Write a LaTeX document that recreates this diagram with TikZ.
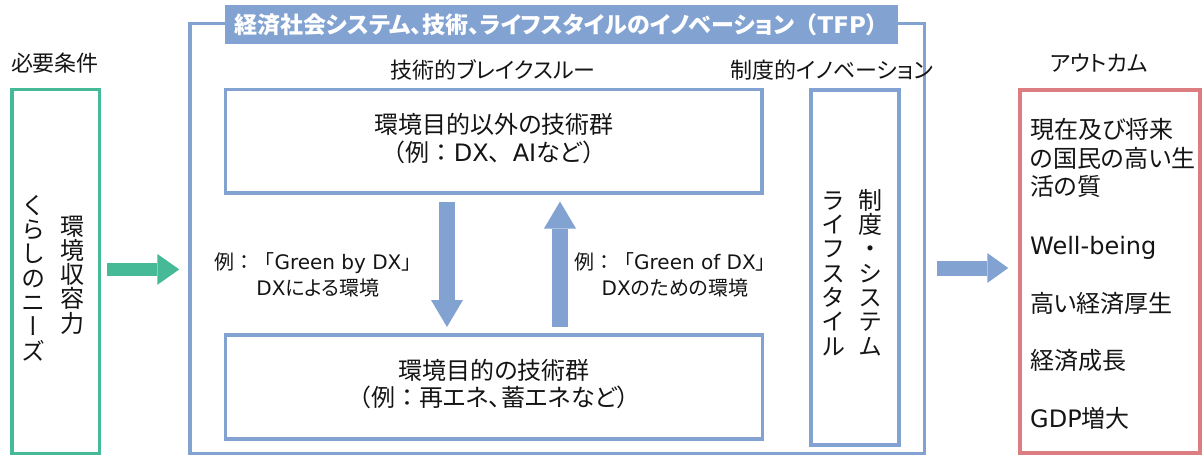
\documentclass[tikz,border=0pt]{standalone}
\usepackage{fontspec}
\setmainfont{Noto Sans CJK JP}[RawFeature={+palt}]
\newfontfamily\fwfont{Noto Sans CJK JP}
\newfontfamily\latfont{DejaVu Sans}
\newfontfamily\vtfont{Noto Sans CJK JP}[RawFeature={+vert}]
\newcommand\FullW[1]{{\fwfont #1}}
\newcommand\LatinTxt[1]{{\latfont #1}}
\usetikzlibrary{arrows.meta}
\definecolor{cgreen}{RGB}{70,185,150}
\definecolor{cblue}{RGB}{130,163,210}
\definecolor{cred}{RGB}{220,125,130}
\definecolor{ctext}{RGB}{20,20,20}
\begin{document}
\begin{tikzpicture}[x=1pt,y=-1pt,
  every node/.style={text=ctext, inner sep=0pt},
  box/.style={draw, line width=3.5pt, inner sep=0pt},
  gbox/.style={box, draw=cgreen},
  bbox/.style={box, draw=cblue},
  rbox/.style={box, draw=cred},
  lbl/.style={font=\fontsize{22}{26}\selectfont},
  big/.style={font=\fontsize{24}{27.5}\selectfont, align=center},
  otext/.style={font=\fontsize{24}{28.5}\selectfont, align=left, anchor=west},
  albl/.style={font=\fontsize{20}{26}\selectfont, align=center},
  vtext/.style={font=\vtfont\fontsize{24}{24.3}\selectfont, align=center},
  garrow/.style={draw=cgreen, line width=13.5pt, -{Triangle[width=31pt,length=22pt,line width=0pt]}},
  barrow/.style={draw=cblue, line width=15pt, -{Triangle[width=30pt,length=21pt,line width=0pt]}},
  darrow/.style={draw=cblue, line width=16.5pt, -{Triangle[width=32pt,length=27pt,line width=0pt]}}
]
\useasboundingbox (0,0) rectangle (1203,456);

% left: requirements
\node[lbl] (need) at (55,63) {必要条件};
\node[gbox, minimum width=87.5pt, minimum height=363.7pt] (leftbox) at (55.5,271.4) {};
\node[vtext] (kankyo) at (72,275) {環\\境\\収\\容\\力};
\node[vtext] (kurashi) at (33,278) {く\\ら\\し\\の\\ニ\\ー\\ズ};

% centre: TFP
\node[bbox, minimum width=734.5pt, minimum height=430pt] (outer) at (557.25,238.5) {};
\node[fill=cblue, minimum width=673pt, minimum height=39pt, text=white,
      font=\bfseries\fontsize{23}{26}\selectfont] (title) at (561.5,24.5)
  {経済社会システム、技術、ライフスタイルのイノベーション\FullW{（}\LatinTxt{TFP}\FullW{）}};
\node[lbl] (tech) at (493,70) {技術的ブレイクスルー};
\node[lbl] (inst) at (832,70) {制度的イノベーション};

\node[bbox, minimum width=536.5pt, minimum height=103.5pt] (upbox) at (493.75,141.25) {};
\node[big] (uptext) at (494,138.5) {環境目的以外の技術群\\\FullW{（例：}\LatinTxt{DX}\FullW{、}\LatinTxt{AI}など\FullW{）}};
\node[bbox, minimum width=537pt, minimum height=104pt] (lowbox) at (494,387) {};
\node[big] (lowtext) at (494,384) {環境目的の技術群\\\FullW{（例：}再エネ、蓄エネなど\FullW{）}};

\node[albl] (lblby) at (318,275) {例\FullW{：「}\LatinTxt{Green by DX}\FullW{」}\\\LatinTxt{DX}による環境};
\node[albl] (lblof) at (675,275) {例\FullW{：「}\LatinTxt{Green of DX}\FullW{」}\\\LatinTxt{DX}のための環境};

\node[bbox, minimum width=88pt, minimum height=355pt] (instbox) at (855,267.5) {};
\node[vtext] (seido) at (870,272.5) {制\\度\\・\\シ\\ス\\テ\\ム};
\node[vtext] (life) at (833,273.5) {ラ\\イ\\フ\\ス\\タ\\イ\\ル};

% right: outcomes
\node[lbl] (outcome) at (1099,63) {アウトカム};
\node[rbox, minimum width=180pt, minimum height=363pt] (redbox) at (1110,271.5) {};
\node[otext] (o1) at (1030,158) {現在及び将来\\の国民の高い生\\活の質};
\node[otext] (o2) at (1030,247.5) {\LatinTxt{Well-being}};
\node[otext] (o3) at (1030,303) {高い経済厚生};
\node[otext] (o4) at (1030,360) {経済成長};
\node[otext] (o5) at (1030,418) {\LatinTxt{GDP}増大};

% arrows
\coordinate (ga) at ([xshift=6pt,yshift=2pt]leftbox.east);
\coordinate (gb) at (outer.west |- ga);
\draw[garrow] (ga) -- ([xshift=-9pt]gb);

\coordinate (bb) at ([yshift=3.5pt]redbox.west);
\coordinate (ba) at (outer.east |- bb);
\draw[barrow] ([xshift=11pt]ba) -- ([xshift=-10pt]bb);

\coordinate (da) at ([xshift=-46.75pt,yshift=-7.25pt]upbox.south);
\coordinate (db) at (da |- lowbox.north);
\draw[darrow] (da) -- ([yshift=6.25pt]db);

\coordinate (ua) at ([xshift=66pt,yshift=6.25pt]lowbox.north);
\coordinate (ub) at (ua |- upbox.south);
\draw[darrow] (ua) -- ([yshift=-6.75pt]ub);
\end{tikzpicture}
\end{document}
